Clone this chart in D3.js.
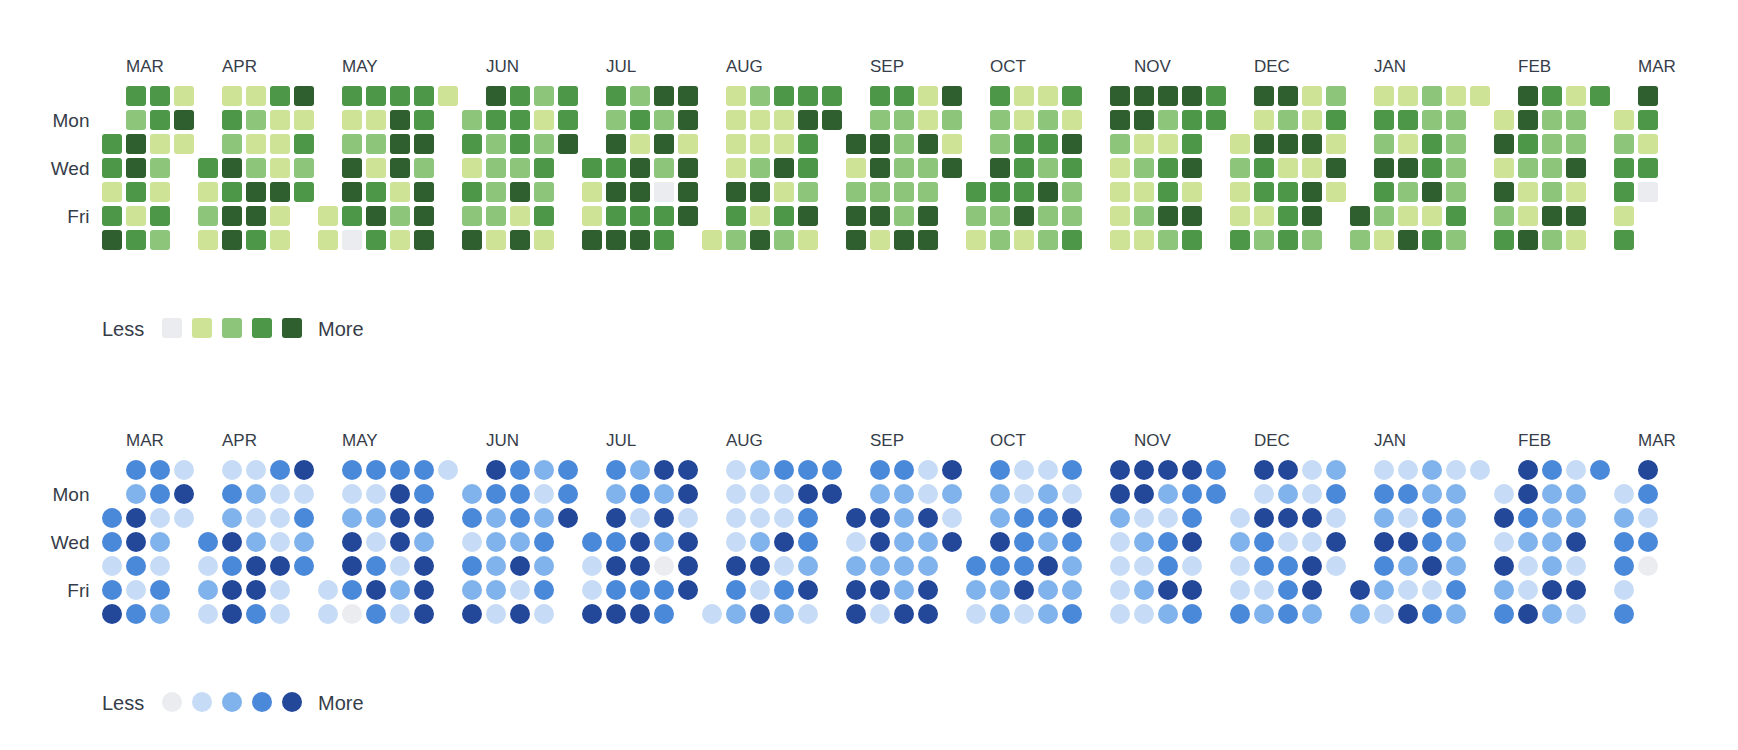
<!DOCTYPE html>
<html><head><meta charset="utf-8">
<script src="https://cdn.jsdelivr.net/npm/d3@7"></script>
<style>
html,body{margin:0;padding:0;background:#fff;}
svg{display:block;}
text{font-family:"Liberation Sans",Arial,sans-serif;fill:#363d49;}
</style>
</head><body>
<svg id="chart" width="1738" height="750"></svg>
<script>
// ---- data (activity level 0-4 for each day) ----
const monthLabels = ["MAR","APR","MAY","JUN","JUL","AUG","SEP","OCT","NOV","DEC","JAN","FEB","MAR"];
const dayLabels = ["Mon","Wed","Fri"];
const dayLabelRows = [1,3,5];
const legendLabels = ["Less","More"];
const levels = [0,1,2,3,4];

const mar2020 = [3,3,1,3,4, 3,2,4,4,3,1,3, 3,3,1,2,1,3,2, 1,4,1]; // from Mar 10
const apr2020 = [3,1,2,1, 1,3,2,4,3,4,4, 1,2,1,2,4,4,3, 3,1,1,1,4,1,1, 4,1,3,2,3];
const may2020 = [1,1, 3,1,2,4,4,3,0, 3,1,2,1,3,4,3, 3,4,4,4,1,2,1, 3,3,4,2,4,4,4, 1];
const jun2020 = [2,3,1,3,2,4, 4,3,2,2,2,2,1, 3,3,3,2,4,1,4, 2,1,2,3,2,3,1, 3,3,4];
const jul2020 = [3,1,1,4, 3,2,4,3,4,3,4, 2,3,1,4,4,3,4, 4,2,4,2,0,3,3, 4,4,1,4,4,4];
const aug2020 = [1, 1,1,1,1,4,3,2, 2,1,1,2,4,1,4, 3,1,1,4,1,3,2, 3,4,3,3,2,4,1, 3,4];
const sep2020 = [4,1,2,4,4, 3,2,4,4,2,4,1, 3,2,2,2,2,2,4, 1,1,4,2,2,4,4, 4,2,1,4];
const oct2020 = [3,2,1, 3,2,2,4,3,2,2, 1,1,3,3,3,4,1, 1,2,3,2,4,2,2, 3,1,4,3,2,2,3];
const nov2020 = [4,4,2,1,1,1,1, 4,4,1,2,1,2,1, 4,2,1,3,3,4,2, 4,3,3,4,1,4,3, 3,3];
const dec2020 = [1,2,1,1,3, 4,1,4,3,3,1,2, 4,2,4,1,3,3,3, 1,1,4,1,4,4,2, 2,3,1,4,1];
const jan2021 = [4,2, 1,3,2,4,3,2,1, 1,3,1,4,2,1,4, 2,2,3,3,4,1,3, 1,2,2,2,2,3,2, 1];
const feb2021 = [1,4,1,4,2,3, 4,4,3,2,1,1,4, 3,2,2,2,2,4,2, 1,2,2,4,1,4,1, 3];
const mar2021 = [1,2,3,3,1,3, 4,3,1,3,0];
const monthValues = [mar2020,apr2020,may2020,jun2020,jul2020,aug2020,sep2020,oct2020,nov2020,dec2020,jan2021,feb2021,mar2021];

const greenColors = ["#ebecf0","#cfe397","#8dc67a","#4c9748","#2f5f2e"];
const blueColors  = ["#ebecf0","#c6dbf5","#80b2ec","#4a88d9","#23489a"];

// ---- build day records ----
const firstDay = new Date(2020, 2, 10);
const days = [];
const months = [];
let colCursor = 0;
monthValues.forEach((vals, mi) => {
  const start = mi === 0 ? firstDay : d3.timeMonth.offset(new Date(2020, 2, 1), mi);
  const firstDow = start.getDay();
  const nCols = Math.floor((firstDow + vals.length) / 7) + 1;
  months.push({label: monthLabels[mi], startCol: colCursor});
  vals.forEach((v, i) => {
    const date = d3.timeDay.offset(start, i);
    days.push({date, value: v, row: date.getDay(), col: colCursor + Math.floor((firstDow + i) / 7)});
  });
  colCursor += nCols;
});
const totalCols = colCursor;

const svg = d3.select("#chart");
const x = d3.scaleBand().domain(d3.range(totalCols)).range([102, 102 + (totalCols - 1) * 24 + 20]).paddingInner(1/6).paddingOuter(0);

function drawChart(top, colors, shape) {
  const g = svg.append("g");
  const y = d3.scaleBand().domain(d3.range(7)).range([top, top + 6 * 24 + 20]).paddingInner(1/6).paddingOuter(0);
  const color = d3.scaleOrdinal().domain(levels).range(colors);
  const bw = x.bandwidth();

  g.selectAll("text.month").data(months).join("text")
    .attr("class", "month")
    .attr("x", d => x(d.startCol + 1))
    .attr("y", top - 14)
    .attr("font-size", 17)
    .text(d => d.label);

  g.selectAll("text.day").data(dayLabels).join("text")
    .attr("class", "day")
    .attr("x", 89.5)
    .attr("y", (d, i) => y(dayLabelRows[i]) + bw / 2 + 6.5)
    .attr("text-anchor", "end")
    .attr("font-size", 19)
    .text(d => d);

  if (shape === "rect") {
    g.selectAll("rect.cell").data(days).join("rect")
      .attr("class", "cell")
      .attr("x", d => x(d.col)).attr("y", d => y(d.row))
      .attr("width", bw).attr("height", y.bandwidth())
      .attr("rx", 3).attr("ry", 3)
      .attr("fill", d => color(d.value));
  } else {
    g.selectAll("circle.cell").data(days).join("circle")
      .attr("class", "cell")
      .attr("cx", d => x(d.col) + bw / 2).attr("cy", d => y(d.row) + y.bandwidth() / 2)
      .attr("r", bw / 2)
      .attr("fill", d => color(d.value));
  }

  // legend
  const legTop = top + 232;
  const lx = d3.scaleLinear().domain([0, 1]).range([162, 192]);
  g.append("text").attr("x", x(0)).attr("y", legTop + 10 + 8).attr("font-size", 20).text(legendLabels[0]);
  if (shape === "rect") {
    g.selectAll("rect.leg").data(levels).join("rect")
      .attr("class", "leg")
      .attr("x", d => lx(d)).attr("y", legTop)
      .attr("width", 20).attr("height", 20).attr("rx", 3).attr("ry", 3)
      .attr("fill", d => color(d));
  } else {
    g.selectAll("circle.leg").data(levels).join("circle")
      .attr("class", "leg")
      .attr("cx", d => lx(d) + 10).attr("cy", legTop + 10).attr("r", 10)
      .attr("fill", d => color(d));
  }
  g.append("text").attr("x", lx(levels.length - 1) + 36).attr("y", legTop + 10 + 8).attr("font-size", 20).text(legendLabels[1]);
}

drawChart(86, greenColors, "rect");
drawChart(460, blueColors, "circle");
</script>
</body></html>
